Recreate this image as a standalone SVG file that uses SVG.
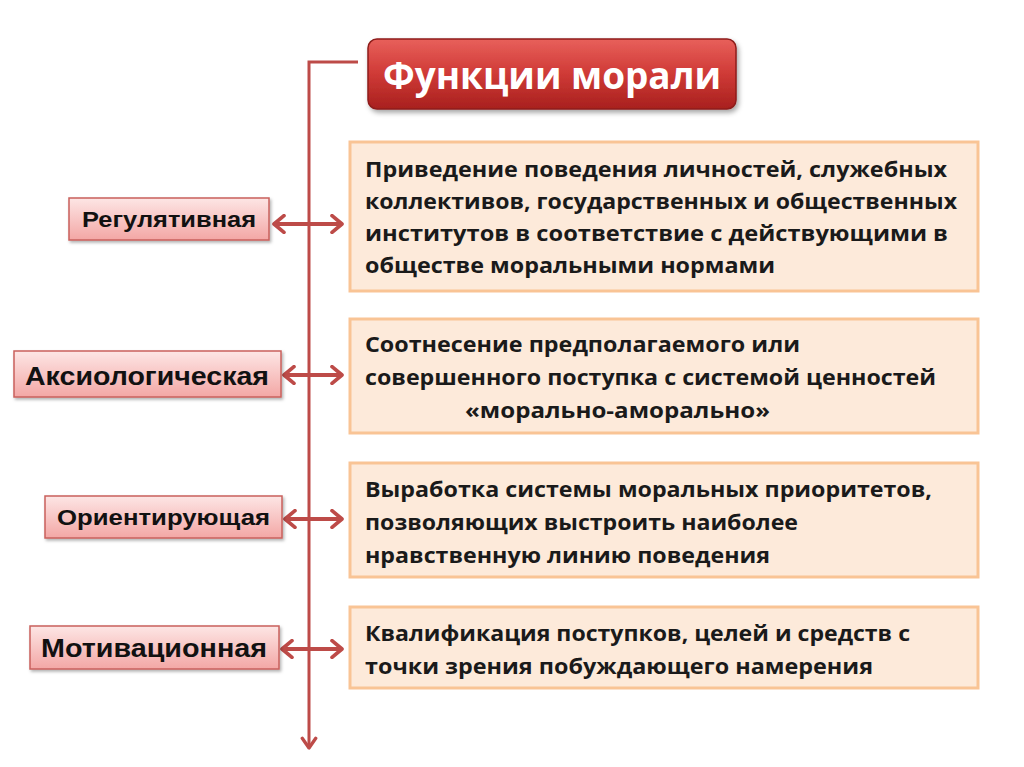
<svg xmlns="http://www.w3.org/2000/svg" width="1024" height="767" viewBox="0 0 1024 767">
<defs>
<style>
.conn{stroke:#bd4b48;stroke-width:3;fill:none}
.dbl{stroke:#bd4b48;stroke-width:4;fill:none}
.rbox{fill:#fdeada;stroke:#f9c495;stroke-width:3}
.rt{font-family:"Open Sans","Noto Sans",sans-serif;font-weight:bold;font-size:21.5px;fill:#1a1a1a}
.lt{font-family:"Liberation Sans",Arial,sans-serif;font-weight:bold;fill:#111}
.lbox{fill:url(#pink);stroke:#c9605c;stroke-width:1.5}
</style>
<linearGradient id="red" x1="0" y1="0" x2="0" y2="1">
<stop offset="0" stop-color="#e8605b"/>
<stop offset="0.5" stop-color="#cf3a36"/>
<stop offset="1" stop-color="#a8201e"/>
</linearGradient>
<linearGradient id="pink" x1="0" y1="0" x2="0" y2="1">
<stop offset="0" stop-color="#fde6e5"/>
<stop offset="1" stop-color="#f3a7a5"/>
</linearGradient>
<filter id="sh" x="-10%" y="-10%" width="130%" height="140%">
<feDropShadow dx="2" dy="3" stdDeviation="2.5" flood-color="#000" flood-opacity="0.35"/>
</filter>
<filter id="sh2" x="-10%" y="-10%" width="130%" height="140%">
<feDropShadow dx="1.5" dy="2" stdDeviation="1.5" flood-color="#000" flood-opacity="0.3"/>
</filter>
<marker id="ah" viewBox="0 0 12 12" refX="9" refY="6" markerWidth="6" markerHeight="6" orient="auto-start-reverse" markerUnits="strokeWidth">
<polyline points="2.5,1.5 9,6 2.5,10.5" fill="none" stroke="#bd4b48" stroke-width="2.2" stroke-linecap="round" stroke-linejoin="round"/>
</marker>
<marker id="ah2" viewBox="0 0 12 12" refX="9.5" refY="6" markerWidth="5" markerHeight="5" orient="auto-start-reverse" markerUnits="strokeWidth">
<polyline points="3.5,1 9.5,6 3.5,11" fill="none" stroke="#bd4b48" stroke-width="2.2" stroke-linecap="round" stroke-linejoin="round"/>
</marker>
</defs>
<rect width="1024" height="767" fill="#ffffff"/>

<g id="connectors">
<polyline class="conn" points="358,62 309,62 309,748" marker-end="url(#ah)"/>
<line class="dbl" x1="274" y1="224" x2="342" y2="224" marker-start="url(#ah2)" marker-end="url(#ah2)"/>
<line class="dbl" x1="284" y1="375" x2="342" y2="375" marker-start="url(#ah2)" marker-end="url(#ah2)"/>
<line class="dbl" x1="285" y1="519" x2="342" y2="519" marker-start="url(#ah2)" marker-end="url(#ah2)"/>
<line class="dbl" x1="282" y1="649" x2="342" y2="649" marker-start="url(#ah2)" marker-end="url(#ah2)"/>
</g>

<g id="title">
<rect x="368" y="39" width="368" height="70" rx="9" fill="url(#red)" stroke="#8e1c1a" stroke-width="1.5" filter="url(#sh)"/>
<text x="552" y="89" text-anchor="middle" font-family="'Open Sans','Noto Sans',sans-serif" font-weight="bold" font-size="38" fill="#ffffff" textLength="338" lengthAdjust="spacingAndGlyphs">Функции морали</text>
</g>

<g id="box1">
<rect class="rbox" x="350" y="142" width="628" height="149"/>
<text class="rt" x="365" y="177" textLength="582" lengthAdjust="spacingAndGlyphs">Приведение поведения личностей, служебных</text>
<text class="rt" x="365" y="209" textLength="592" lengthAdjust="spacingAndGlyphs">коллективов, государственных и общественных</text>
<text class="rt" x="365" y="241" textLength="583" lengthAdjust="spacingAndGlyphs">институтов в соответствие с действующими в</text>
<text class="rt" x="365" y="273" textLength="410" lengthAdjust="spacingAndGlyphs">обществе моральными нормами</text>
</g>

<g id="box2">
<rect class="rbox" x="350" y="319" width="628" height="114"/>
<text class="rt" x="365" y="352" textLength="435" lengthAdjust="spacingAndGlyphs">Соотнесение предполагаемого или</text>
<text class="rt" x="365" y="385" textLength="571" lengthAdjust="spacingAndGlyphs">совершенного поступка с системой ценностей</text>
<text class="rt" x="465" y="418" textLength="305" lengthAdjust="spacingAndGlyphs">«морально-аморально»</text>
</g>

<g id="box3">
<rect class="rbox" x="350" y="463" width="628" height="114"/>
<text class="rt" x="365" y="497" textLength="567" lengthAdjust="spacingAndGlyphs">Выработка системы моральных приоритетов,</text>
<text class="rt" x="365" y="530" textLength="433" lengthAdjust="spacingAndGlyphs">позволяющих выстроить наиболее</text>
<text class="rt" x="365" y="563" textLength="405" lengthAdjust="spacingAndGlyphs">нравственную линию поведения</text>
</g>

<g id="box4">
<rect class="rbox" x="350" y="607" width="628" height="81"/>
<text class="rt" x="365" y="641" textLength="545" lengthAdjust="spacingAndGlyphs">Квалификация поступков, целей и средств с</text>
<text class="rt" x="365" y="674" textLength="508" lengthAdjust="spacingAndGlyphs">точки зрения побуждающего намерения</text>
</g>

<g id="regulative">
<rect class="lbox" x="69" y="198" width="200" height="42" filter="url(#sh2)"/>
<text class="lt" x="82" y="227" font-size="22.5" textLength="174" lengthAdjust="spacingAndGlyphs">Регулятивная</text>
</g>

<g id="axiological">
<rect class="lbox" x="14" y="351" width="267" height="46" filter="url(#sh2)"/>
<text class="lt" x="25" y="385" font-size="26" textLength="244" lengthAdjust="spacingAndGlyphs">Аксиологическая</text>
</g>

<g id="orienting">
<rect class="lbox" x="45" y="496" width="237" height="42" filter="url(#sh2)"/>
<text class="lt" x="57" y="525" font-size="22.5" textLength="213" lengthAdjust="spacingAndGlyphs">Ориентирующая</text>
</g>

<g id="motivational">
<rect class="lbox" x="30" y="626" width="249" height="43" filter="url(#sh2)"/>
<text class="lt" x="41" y="657" font-size="25" textLength="226" lengthAdjust="spacingAndGlyphs">Мотивационная</text>
</g>
</svg>
